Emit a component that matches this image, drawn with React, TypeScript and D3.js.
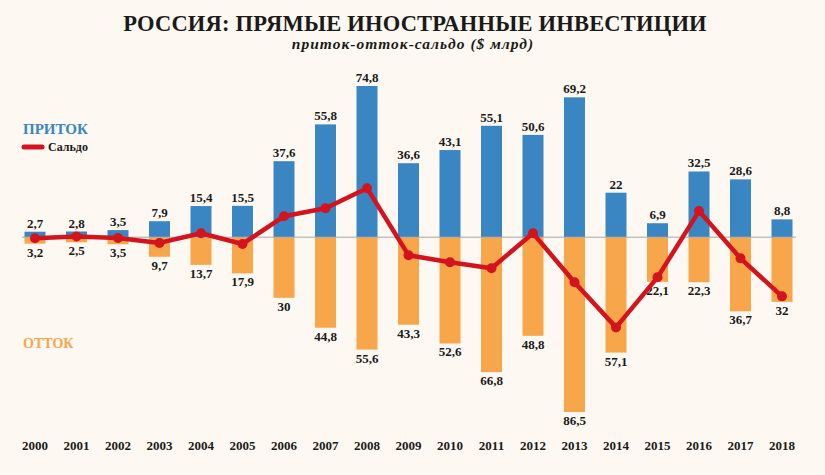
import React from "react";
import * as d3 from "d3";

const years = ["2000","2001","2002","2003","2004","2005","2006","2007","2008","2009","2010","2011","2012","2013","2014","2015","2016","2017","2018"];
const inflow = [2.7, 2.8, 3.5, 7.9, 15.4, 15.5, 37.6, 55.8, 74.8, 36.6, 43.1, 55.1, 50.6, 69.2, 22, 6.9, 32.5, 28.6, 8.8];
const outflow = [3.2, 2.5, 3.5, 9.7, 13.7, 17.9, 30, 44.8, 55.6, 43.3, 52.6, 66.8, 48.8, 86.5, 57.1, 22.1, 22.3, 36.7, 32];
const balance = [-0.4, 0.3, -0.3, -2.2, 1.5, -2.6, 8.0, 11.1, 18.8, -6.9, -9.6, -11.9, 1.5, -17.3, -34.6, -15.4, 10.0, -8.1, -22.7];

const W = 825;
const H = 475;
const C_BLUE = "#3a86c2";
const C_ORANGE = "#f7a64a";
const C_RED = "#d3141f";
const C_BG = "#fdf8f1";
const C_TEXT = "#1b1a19";
const SERIF = "'Liberation Serif', 'DejaVu Serif', serif";

const fmt = (v: number) => String(v).replace(".", ",");

export default function App() {
  const x = d3.scalePoint<string>().domain(years).range([35, 782]);
  const y = d3.scaleLinear().domain([-86.5, 74.8]).range([412, 86]);
  const yLine = d3.scaleLinear().domain([-86.5 / 1.29, 74.8 / 1.29]).range([412, 86]);
  const bw = 21;
  const y0 = y(0);

  const line = d3
    .line<number>()
    .x((_, i) => x(years[i]) as number)
    .y((d) => yLine(d));

  return (
    <svg
      width={W}
      height={H}
      style={{ position: "absolute", left: 0, top: 0, display: "block" }}
    >
      <rect x={0} y={0} width={W} height={H} fill={C_BG} />
      <text
        x={415}
        y={31}
        textAnchor="middle"
        fontFamily={SERIF}
        fontWeight="bold"
        fontSize={22.5}
        fill={C_TEXT}
        letterSpacing={0.2}
      >
        РОССИЯ: ПРЯМЫЕ ИНОСТРАННЫЕ ИНВЕСТИЦИИ
      </text>
      <text
        x={413}
        y={49}
        textAnchor="middle"
        fontFamily={SERIF}
        fontWeight="bold"
        fontStyle="italic"
        fontSize={15.5}
        fill={C_TEXT}
        letterSpacing={1}
      >
        приток-отток-сальдо ($ млрд)
      </text>

      <text x={23} y={134} fontFamily={SERIF} fontWeight="bold" fontSize={15} fill={C_BLUE} letterSpacing={0}>
        ПРИТОК
      </text>
      <line x1={24} x2={42} y1={147} y2={147} stroke={C_RED} strokeWidth={5} strokeLinecap="round" />
      <text x={48} y={151} fontFamily={SERIF} fontWeight="bold" fontSize={12} fill={C_TEXT}>
        Сальдо
      </text>
      <text x={23} y={348} fontFamily={SERIF} fontWeight="bold" fontSize={14} fill={C_ORANGE} letterSpacing={0}>
        ОТТОК
      </text>

      {years.map((yr, i) => {
        const cx = x(yr) as number;
        return (
          <g key={yr}>
            <rect x={cx - bw / 2} y={y(inflow[i])} width={bw} height={y0 - y(inflow[i])} fill={C_BLUE} />
            <rect x={cx - bw / 2} y={y0} width={bw} height={y(-outflow[i]) - y0} fill={C_ORANGE} />
            <text
              x={cx}
              y={y(inflow[i]) - 4}
              textAnchor="middle"
              fontFamily={SERIF}
              fontWeight="bold"
              fontSize={13}
              fill={C_TEXT}
            >
              {fmt(inflow[i])}
            </text>
            <text
              x={cx}
              y={y(-outflow[i]) + 13}
              textAnchor="middle"
              fontFamily={SERIF}
              fontWeight="bold"
              fontSize={13}
              fill={C_TEXT}
            >
              {fmt(outflow[i])}
            </text>
            <text
              x={cx}
              y={450}
              textAnchor="middle"
              fontFamily={SERIF}
              fontWeight="bold"
              fontSize={13}
              fill={C_TEXT}
            >
              {yr}
            </text>
          </g>
        );
      })}

      <line x1={22} x2={796} y1={y0} y2={y0} stroke="#a9a6a2" strokeWidth={1} />

      <path d={line(balance) || ""} fill="none" stroke={C_RED} strokeWidth={4.5} strokeLinejoin="round" />
      {balance.map((v, i) => (
        <circle key={years[i]} cx={x(years[i]) as number} cy={yLine(v)} r={5} fill={C_RED} />
      ))}
    </svg>
  );
}
